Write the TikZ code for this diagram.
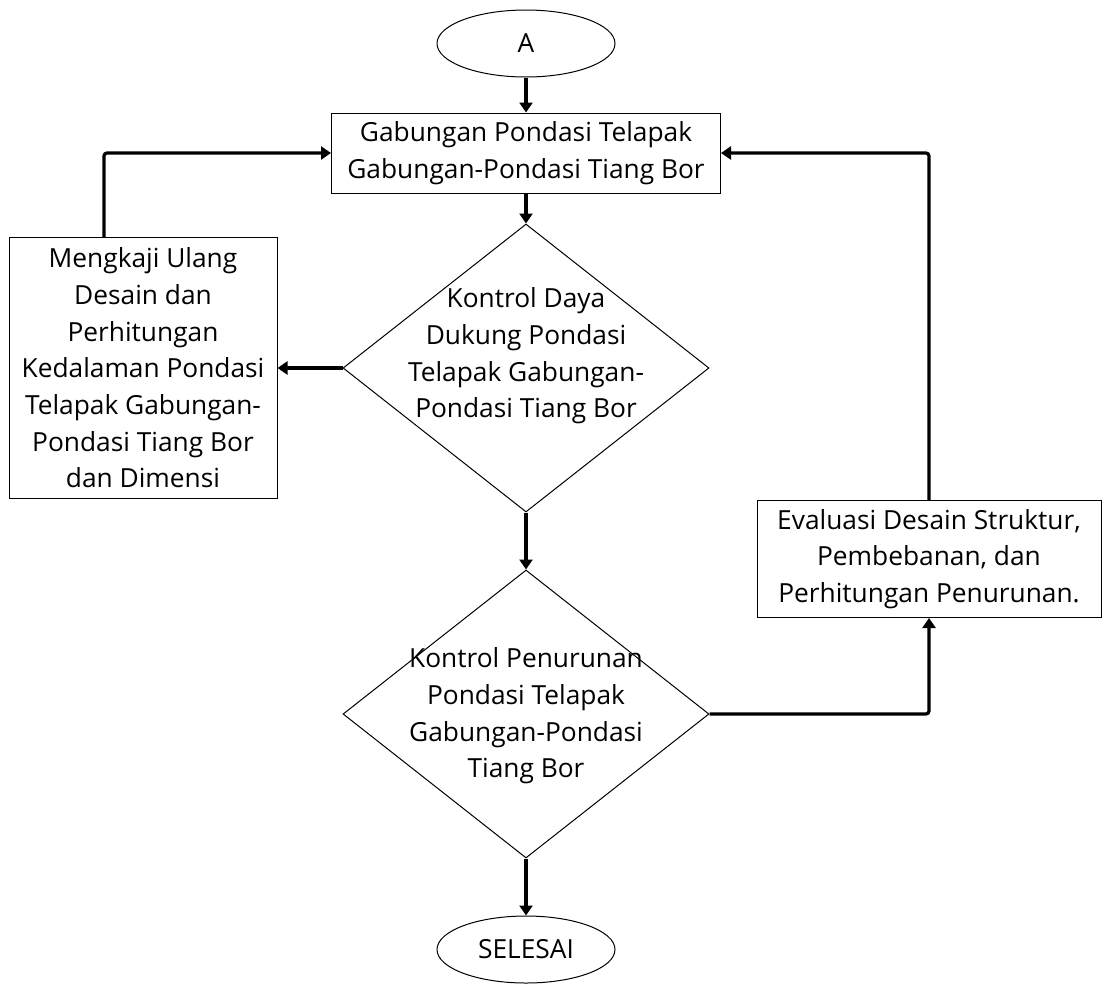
\documentclass[tikz,border=0pt]{standalone}
\usepackage{fontspec}
\setmainfont{Open Sans}
\usetikzlibrary{positioning,shapes.geometric,arrows.meta}
\begin{document}
\begin{tikzpicture}[x=1pt, y=-1pt, >={Triangle[width=13pt,length=10pt]}, font=\fontsize{26.3}{36.7}\selectfont]
        % Definisi gaya
        \tikzstyle{nodoTerminal} = [draw, ellipse, line width=1pt, minimum width=178pt, minimum height=67pt, inner sep=0pt]
        \tikzstyle{nodoProses} = [draw, rectangle, line width=1pt, align=center, inner sep=0pt]
        \tikzstyle{nodoKeputusan} = [draw, diamond, line width=1pt, minimum width=366pt, minimum height=288pt, inner sep=0pt]
        \tikzstyle{alur} = [->, line width=3.2pt, rounded corners=3pt]

        \useasboundingbox (0,0) rectangle (1107,983);

        % Nodo utama
        \node[nodoTerminal] (mulai) at (526,43.5) {A};
        \node[nodoProses, below=35pt of mulai, minimum width=389pt, minimum height=80pt] (gabungan) {Gabungan Pondasi Telapak\\Gabungan-Pondasi Tiang Bor};
        \node[nodoKeputusan, below=30pt of gabungan, label={[align=center, yshift=12pt]center:Kontrol Daya\\Dukung Pondasi\\Telapak Gabungan-\\Pondasi Tiang Bor}] (kontrolDaya) {};
        \node[nodoKeputusan, below=57pt of kontrolDaya, label={[align=center, yshift=-2pt]center:Kontrol Penurunan\\Pondasi Telapak\\Gabungan-Pondasi\\Tiang Bor}] (kontrolPenurunan) {};
        \node[nodoTerminal, below=57pt of kontrolPenurunan] (selesai) {SELESAI};

        % Nodo samping
        \node[nodoProses, left=65pt of kontrolDaya, minimum width=268pt, minimum height=261pt] (mengkaji) {Mengkaji Ulang\\Desain dan\\Perhitungan\\Kedalaman Pondasi\\Telapak Gabungan-\\Pondasi Tiang Bor\\dan Dimensi};
        \node[nodoProses, above right=96pt and 47pt of kontrolPenurunan.east, minimum width=344pt, minimum height=117pt] (evaluasi) {Evaluasi Desain Struktur,\\Pembebanan, dan\\Perhitungan Penurunan.};

        % Alur
        \draw[alur] (mulai) -- (gabungan);
        \draw[alur] (gabungan) -- (kontrolDaya);
        \draw[alur] (kontrolDaya) -- (mengkaji);
        \draw[alur] (kontrolDaya) -- (kontrolPenurunan);
        \draw[alur] (kontrolPenurunan) -- (selesai);
        \draw[alur] (kontrolPenurunan.east) -| (evaluasi.south);
        \draw[alur] (evaluasi.north) |- (gabungan.east);
        \draw[alur] ([xshift=-39pt]mengkaji.north) |- (gabungan.west);
\end{tikzpicture}
\end{document}
